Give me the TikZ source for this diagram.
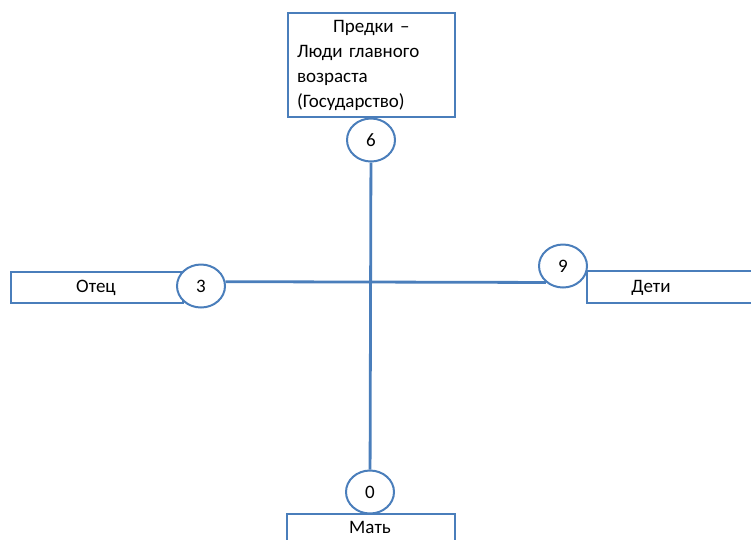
\documentclass[tikz,border=0pt]{standalone}
\usepackage{fontspec}
\setmainfont{Carlito}
\usepackage{tikz}
\usetikzlibrary{
  shapes.geometric
}
\definecolor{boxblue}{RGB}{74,126,187}

\begin{document}
\begin{tikzpicture}[x=1pt, y=-1pt,
  box/.style = {draw=boxblue, line width=1.8pt, fill=white, rectangle, inner sep=0pt},
  num/.style = {draw=boxblue, line width=2pt, fill=white, ellipse, minimum width=48pt, minimum height=43pt, inner sep=0pt},
  txt/.style = {font=\fontsize{19}{25}\selectfont, inner sep=0pt},
  axis/.style = {draw=boxblue, line width=2.8pt}]
\useasboundingbox (0,0) rectangle (751,539);
\clip (0,0) rectangle (751,539);

\node (pred) [box, txt, minimum width=167pt, minimum height=104pt, text width=149pt, align=left] at (371.5,65)
  {\hspace*{36pt}Предки –\\Люди главного\\возраста\\(Государство)};
\node (otec) [box, minimum width=172pt, minimum height=31pt] at (97,287.5) {};
\node (deti) [box, minimum width=180pt, minimum height=32pt] at (677,287) {};
\node (mat) [box, minimum width=168pt, minimum height=32pt] at (371,530) {};

\node (totec) [txt] at (96,288) {Отец};
\node (tdeti) [txt] at (651,288) {Дети};
\node (tmat) [txt] at (370,527.5) {Мать};

\node (c6) [num, txt] at (371,140) {6};
\node (c3) [num, txt] at (201,286) {3};
\node (c9) [num, txt] at (563,266) {9};
\node (c0) [num, txt] at (370,492) {0};

\draw [axis] (c6) -- (c0);
\draw [axis] (c3.10) -- (c9.224);

\end{tikzpicture}
\end{document}
